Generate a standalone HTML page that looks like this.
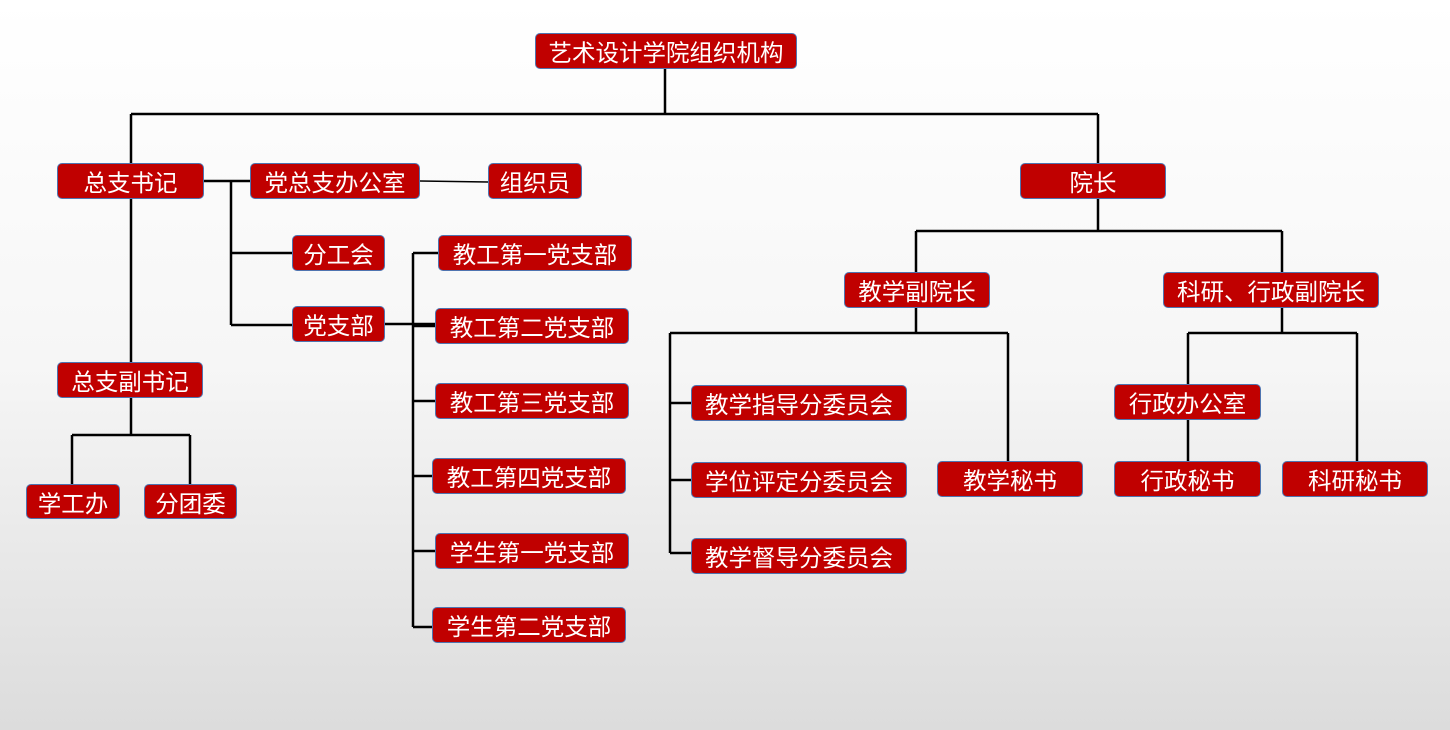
<!DOCTYPE html>
<html><head><meta charset="utf-8"><style>
html,body{margin:0;padding:0}
body{width:1450px;height:730px;position:relative;overflow:hidden;background:linear-gradient(to bottom,#ffffff 0%,#f6f6f6 50%,#dcdcdc 100%);font-family:"Liberation Sans","Noto Sans CJK SC",sans-serif}
.b{position:absolute;box-sizing:border-box;background:#c00000;border:1.5px solid #4f74b0;border-radius:5px;color:#fff;font-size:23.5px;display:flex;align-items:center;justify-content:center;white-space:nowrap;letter-spacing:0}
svg{position:absolute;left:0;top:0}
</style></head><body>
<svg width="1450" height="730" stroke="#000" stroke-width="2.5" fill="none">
<path d="M665 69V114M131 114H1098M131 114V163M1098 114V163"/>
<path d="M131 199V362M131 398V435M72 435H190M72 435V484M190 435V484"/>
<path d="M204 181H250M231 181V325M231 253H292M231 325H292"/>
<path d="M420 181L488 182" stroke-width="1.5"/>
<path d="M385 324H435M413 253V627M413 253H438M413 326H435M413 401H435M413 476H432M413 551H435M413 627H432"/>
<path d="M1098 199V231M916 231H1282M916 231V272M1282 231V272"/>
<path d="M916 308V333M670 333H1008M670 333V553M670 403H691M670 480H691M670 553H691M1008 333V461"/>
<path d="M1282 308V333M1188 333H1357M1188 333V384M1188 420V461M1357 333V461"/>
</svg>
<div class="b" style="left:535px;top:33px;width:262px;height:36px">艺术设计学院组织机构</div>
<div class="b" style="left:57px;top:163px;width:147px;height:36px">总支书记</div>
<div class="b" style="left:250px;top:163px;width:170px;height:36px">党总支办公室</div>
<div class="b" style="left:488px;top:163px;width:94px;height:36px">组织员</div>
<div class="b" style="left:1020px;top:163px;width:146px;height:36px">院长</div>
<div class="b" style="left:292px;top:235px;width:93px;height:36px">分工会</div>
<div class="b" style="left:292px;top:306px;width:93px;height:36px">党支部</div>
<div class="b" style="left:438px;top:235px;width:194px;height:36px">教工第一党支部</div>
<div class="b" style="left:435px;top:308px;width:194px;height:36px">教工第二党支部</div>
<div class="b" style="left:435px;top:383px;width:194px;height:36px">教工第三党支部</div>
<div class="b" style="left:432px;top:458px;width:194px;height:36px">教工第四党支部</div>
<div class="b" style="left:435px;top:533px;width:194px;height:36px">学生第一党支部</div>
<div class="b" style="left:432px;top:607px;width:194px;height:36px">学生第二党支部</div>
<div class="b" style="left:57px;top:362px;width:146px;height:36px">总支副书记</div>
<div class="b" style="left:26px;top:484px;width:94px;height:35px">学工办</div>
<div class="b" style="left:144px;top:484px;width:93px;height:35px">分团委</div>
<div class="b" style="left:844px;top:272px;width:146px;height:36px">教学副院长</div>
<div class="b" style="left:1163px;top:272px;width:216px;height:36px">科研、行政副院长</div>
<div class="b" style="left:691px;top:385px;width:216px;height:36px">教学指导分委员会</div>
<div class="b" style="left:691px;top:462px;width:216px;height:36px">学位评定分委员会</div>
<div class="b" style="left:691px;top:538px;width:216px;height:36px">教学督导分委员会</div>
<div class="b" style="left:937px;top:461px;width:146px;height:36px">教学秘书</div>
<div class="b" style="left:1114px;top:384px;width:147px;height:36px">行政办公室</div>
<div class="b" style="left:1114px;top:461px;width:147px;height:36px">行政秘书</div>
<div class="b" style="left:1282px;top:461px;width:146px;height:36px">科研秘书</div>
</body></html>
